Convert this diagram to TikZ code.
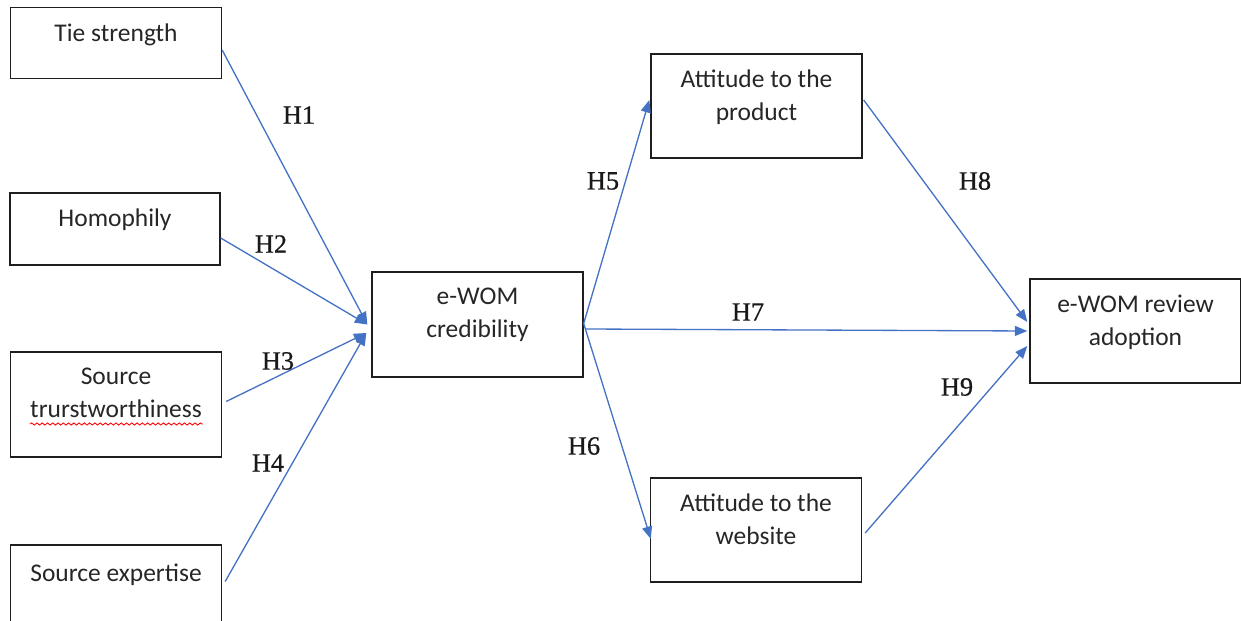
\documentclass[tikz,border=0pt]{standalone}
\usepackage{fontspec}
\usepackage{xcolor}
\usepackage{tikz}
\usetikzlibrary{positioning,arrows.meta,calc,decorations.pathmorphing}
\newfontfamily\calibrilike{Carlito}
\newfontfamily\cambrialike[FakeBold=0.6]{Liberation Serif}
\newcommand{\boxfont}{\calibrilike\fontsize{14.5}{18.7}\selectfont}
\newcommand{\hypfont}{\cambrialike\fontsize{15}{18}\selectfont}
\definecolor{linkblue}{RGB}{68, 114, 196}
\definecolor{boxline}{RGB}{30, 30, 30}
\tikzset{
    construct/.style={rectangle, draw=boxline, line width=0.8pt, minimum width=4.22cm, minimum height=2.1cm, inner sep=0pt},
    single line/.style={construct, minimum height=1.42cm},
    box text/.style={anchor=north, inner sep=0pt, yshift=-0.33cm, align=center, font=\boxfont, text=black!85},
    hypothesis/.style={-{Triangle[length=0.25cm, width=0.2cm]}, draw=linkblue, line width=0.75pt},
    hyp label/.style={font=\hypfont, text=black!90},
    spell mark/.style={draw=red, line width=0.5pt, decorate, decoration={snake, amplitude=0.6pt, segment length=3pt}}
}

\begin{document}
\begin{tikzpicture}[x=0.02cm, y=-0.02cm]
    \useasboundingbox (0,0) rectangle (1241,621);

    % Antecedents - left column
    \node[single line, label={[box text]north:Tie strength}] (tie) at (116,43) {};
    \node[single line, minimum width=4.2cm, minimum height=1.44cm, label={[box text]north:Homophily}] (homo) at (115,229) {};
    \node[construct, label={[box text]north:Source\\trurstworthiness}] (trust) at (116,404.5) {};
    \node[construct, label={[box text, yshift=-0.05cm]north:Source expertise}] (expert) at (116,597.5) {};

    % Mediator
    \node[construct, label={[box text]north:e-WOM\\credibility}] (cred) at (477.5,324.5) {};

    % Attitudes
    \node[construct, minimum height=2.08cm, label={[box text]north:Attitude to the\\product}] (prod) at (756.5,106) {};
    \node[construct, minimum height=2.08cm, label={[box text]north:Attitude to the\\website}] (web) at (756,530) {};

    % Outcome
    \node[construct, minimum height=2.08cm, label={[box text]north:e-WOM review\\adoption}] (adopt) at (1135.5,331) {};

    % Spelling mark under trurstworthiness
    \draw[spell mark] ($(trust.center)+(-86,19.5)$) coordinate (sp-a) -- ($(trust.center)+(87,19.5)$) coordinate (sp-b);

    % Paths into credibility
    \draw[hypothesis] ($(tie.east)+(0,7)$) -- ($(cred.west)+(-4,0)$);
    \draw[hypothesis] ($(homo.east)+(0,9)$) -- ($(cred.west)+(-4,0)$);
    \draw[hypothesis] ($(trust.east)+(4,-3)$) -- ($(cred.west)+(-5,8.5)$);
    \draw[hypothesis] ($(expert.east)+(3,-16)$) -- ($(cred.west)+(-5,8.5)$);

    % Paths out of credibility
    \draw[hypothesis] ($(cred.east)+(0,-1)$) -- ($(prod.west)+(-1,-6)$);
    \draw[hypothesis] ($(cred.east)+(0,-1)$) -- ($(web.west)+(1,9)$);
    \draw[hypothesis] ($(cred.east)+(2,4.5)$) -- ($(adopt.west)+(-2,0)$);

    % Paths into adoption
    \draw[hypothesis] ($(prod.east)+(1,-6)$) -- ($(adopt.west)+(-2,-9)$);
    \draw[hypothesis] ($(web.east)+(3,3)$) -- ($(adopt.west)+(-2,15)$);

    % Hypothesis labels
    \node[hyp label] (h1) at (299,115) {H1};
    \node[hyp label] (h2) at (271,244) {H2};
    \node[hyp label] (h3) at (278,361) {H3};
    \node[hyp label] (h4) at (268,463) {H4};
    \node[hyp label] (h5) at (603,181) {H5};
    \node[hyp label] (h6) at (584,446) {H6};
    \node[hyp label] (h7) at (748,312) {H7};
    \node[hyp label] (h8) at (975,181) {H8};
    \node[hyp label] (h9) at (957,387) {H9};
\end{tikzpicture}
\end{document}
